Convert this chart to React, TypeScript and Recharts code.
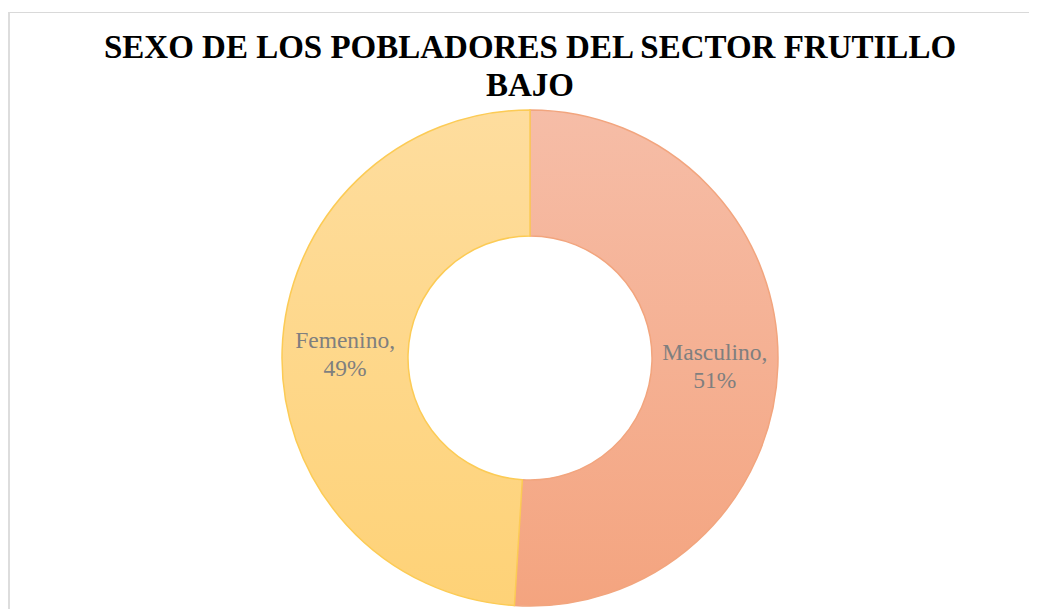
import React from "react";
import { PieChart, Pie, Cell } from "recharts";

const categories = ["Masculino", "Femenino"];
const percentages = [51, 49];
const titleLines = ["SEXO DE LOS POBLADORES DEL SECTOR FRUTILLO", "BAJO"];

const data = categories.map((name, i) => ({ name, value: percentages[i] }));

const gradIds = ["gradMasc", "gradFem"];
const strokes = ["#F2A57E", "#FCCB55"];

const SERIF = '"Liberation Serif", "Times New Roman", serif';
const RAD = Math.PI / 180;

const renderLabel = (props: any) => {
  const { cx, cy, midAngle, innerRadius, outerRadius, index } = props;
  const r = (innerRadius + outerRadius) / 2;
  const x = cx + r * Math.cos(-midAngle * RAD);
  const y = cy + r * Math.sin(-midAngle * RAD);
  const d = data[index];
  return (
    <text
      x={x}
      y={y}
      textAnchor="middle"
      fill="#7F7F7F"
      style={{ fontFamily: SERIF, fontSize: 23.5 }}
    >
      <tspan x={x} dy={-4}>{d.name},</tspan>
      <tspan x={x} dy={28}>{d.value}%</tspan>
    </text>
  );
};

export default function App() {
  return (
    <div style={{ position: "relative", top: 4, width: 1029, height: 601, overflow: "hidden" }}>
      <div
        style={{
          position: "absolute",
          left: 0,
          top: 0,
          width: 1060,
          height: 640,
          borderTop: "1px solid #D9D9D9",
          borderLeft: "2px solid #DDDDDD",
          boxSizing: "border-box",
          background: "#fff",
        }}
      />
      <div
        style={{
          position: "absolute",
          left: 0,
          top: 16,
          width: 1044,
          textAlign: "center",
          fontFamily: SERIF,
          fontWeight: "bold",
          fontSize: 33,
          lineHeight: "38px",
          color: "#000",
        }}
      >
        {titleLines.map((l) => (
          <div key={l}>{l}</div>
        ))}
      </div>
      <div style={{ position: "absolute", left: 0, top: 0 }}>
        <PieChart width={1029} height={601} margin={{ top: 0, right: 0, bottom: 0, left: 0 }}>
          <defs>
            <linearGradient id="gradMasc" x1="0" y1="0" x2="0" y2="1">
              <stop offset="0%" stopColor="#F6BDA7" />
              <stop offset="100%" stopColor="#F4A47F" />
            </linearGradient>
            <linearGradient id="gradFem" x1="0" y1="0" x2="0" y2="1">
              <stop offset="0%" stopColor="#FEDD9E" />
              <stop offset="100%" stopColor="#FED277" />
            </linearGradient>
          </defs>
          <Pie
            data={data}
            dataKey="value"
            nameKey="name"
            cx={522}
            cy={346}
            innerRadius={122}
            outerRadius={248}
            startAngle={90}
            endAngle={-270}
            isAnimationActive={false}
            label={renderLabel}
            labelLine={false}
            strokeWidth={1.5}
          >
            {data.map((d, i) => (
              <Cell key={d.name} fill={`url(#${gradIds[i]})`} stroke={strokes[i]} />
            ))}
          </Pie>
        </PieChart>
      </div>
    </div>
  );
}
